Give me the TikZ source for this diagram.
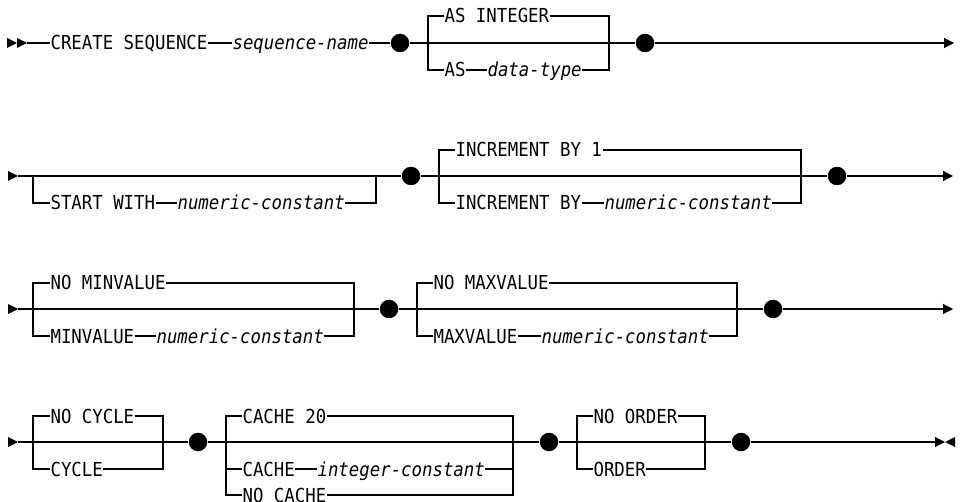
\documentclass[tikz,border=0pt]{standalone}
\usepackage{fontspec}
\setmonofont[FakeStretch=0.9]{DejaVu Sans Mono}
\usetikzlibrary{arrows.meta}

\tikzset{
    kw/.style={inner sep=0pt, anchor=west, text height=14pt, text depth=0pt,
        font=\ttfamily\fontsize{19.3}{21}\selectfont},
    var/.style={kw, font=\ttfamily\itshape\fontsize{19.3}{21}\selectfont},
    dot/.style={circle, fill, inner sep=0pt, minimum size=18.5pt},
    rail/.style={line width=1.1pt},
    railend/.style={-{Triangle[length=10pt, width=10pt]}},
    railmark/.pic={\fill (-10pt,-5pt) -- (0pt,0pt) -- (-10pt,5pt) -- cycle;}
}

\begin{document}
\begin{tikzpicture}[x=1pt, y=-1pt, rail]
    \useasboundingbox (0,0) rectangle (960,502);

    % 第一行
    \pic at (17,43) {railmark};
    \pic at (27,43) {railmark};
    \coordinate (s1) at (27,43);
    \node[kw] (create) at (50,43) {CREATE SEQUENCE};
    \node[var] (seqname) at (232,43) {sequence-name};
    \node[dot] (d1a) at (400,43) {};
    \coordinate (b1l) at (428,43);
    \coordinate (b1r) at (609,43);
    \node[kw] (asint) at (444,16) {AS INTEGER};
    \node[kw] (as) at (444,70) {AS};
    \node[var] (dtype) at (487,70) {data-type};
    \node[dot] (d1b) at (645,43) {};
    \coordinate (e1) at (954,43);
    \draw (s1) -- (create) (create) -- (seqname) (seqname) -- (d1a) -- (d1b);
    \draw (asint) -| (b1l) |- (as);
    \draw (asint) -| (b1r) |- (dtype);
    \draw (as) -- (dtype);
    \draw[railend] (d1b) -- (e1);

    % 第二行
    \pic at (18,176) {railmark};
    \coordinate (s2) at (18,176);
    \coordinate (b2l) at (33,176);
    \coordinate (b2r) at (376,176);
    \node[kw] (startw) at (50,203) {START WITH};
    \node[var] (nc1) at (177,203) {numeric-constant};
    \node[dot] (d2a) at (411,176) {};
    \coordinate (b3l) at (439,176);
    \coordinate (b3r) at (801,176);
    \node[kw] (incr1) at (455,150) {INCREMENT BY 1};
    \node[kw] (incrby) at (455,203) {INCREMENT BY};
    \node[var] (nc2) at (604,203) {numeric-constant};
    \node[dot] (d2b) at (837,176) {};
    \coordinate (e2) at (953,176);
    \draw (s2) -- (d2a) -- (d2b);
    \draw (b2l) |- (startw);
    \draw (nc1) -| (b2r);
    \draw (startw) -- (nc1);
    \draw (incr1) -| (b3l) |- (incrby);
    \draw (incr1) -| (b3r) |- (nc2);
    \draw (incrby) -- (nc2);
    \draw[railend] (d2b) -- (e2);

    % 第三行
    \pic at (18,309) {railmark};
    \coordinate (s3) at (18,309);
    \coordinate (b4l) at (33,309);
    \coordinate (b4r) at (354,309);
    \node[kw] (nomin) at (50,283) {NO MINVALUE};
    \node[kw] (minv) at (50,336) {MINVALUE};
    \node[var] (nc3) at (156,336) {numeric-constant};
    \node[dot] (d3a) at (389,309) {};
    \coordinate (b5l) at (417,309);
    \coordinate (b5r) at (737,309);
    \node[kw] (nomax) at (433,283) {NO MAXVALUE};
    \node[kw] (maxv) at (433,336) {MAXVALUE};
    \node[var] (nc4) at (541,336) {numeric-constant};
    \node[dot] (d3b) at (773,309) {};
    \coordinate (e3) at (953,309);
    \draw (s3) -- (d3a) -- (d3b);
    \draw (nomin) -| (b4l) |- (minv);
    \draw (nomin) -| (b4r) |- (nc3);
    \draw (minv) -- (nc3);
    \draw (nomax) -| (b5l) |- (maxv);
    \draw (nomax) -| (b5r) |- (nc4);
    \draw (maxv) -- (nc4);
    \draw[railend] (d3b) -- (e3);

    % 第四行
    \pic at (18,442) {railmark};
    \coordinate (s4) at (18,442);
    \coordinate (b6l) at (33,442);
    \coordinate (b6r) at (163,442);
    \node[kw] (nocycle) at (50,416) {NO CYCLE};
    \node[kw] (cycle) at (50,469) {CYCLE};
    \node[dot] (d4a) at (198,442) {};
    \coordinate (b7l) at (226,442);
    \coordinate (b7r) at (513,442);
    \node[kw] (cache20) at (242,416) {CACHE 20};
    \node[kw] (cache) at (242,469) {CACHE};
    \node[var] (intc) at (317,469) {integer-constant};
    \node[kw] (nocache) at (242,495) {NO CACHE};
    \node[dot] (d4b) at (549,442) {};
    \coordinate (b8l) at (577,442);
    \coordinate (b8r) at (705,442);
    \node[kw] (noorder) at (593,416) {NO ORDER};
    \node[kw] (order) at (593,469) {ORDER};
    \node[dot] (d4c) at (741,442) {};
    \coordinate (e4) at (945,442);
    \draw (s4) -- (d4a) -- (d4b) -- (d4c);
    \draw (nocycle) -| (b6l) |- (cycle);
    \draw (nocycle) -| (b6r) |- (cycle);
    \draw (cache20) -| (b7l) |- (nocache);
    \draw (cache20) -| (b7r) |- (nocache);
    \draw (b7l |- cache) -- (cache) (cache) -- (intc) (intc) -- (intc -| b7r);
    \draw (noorder) -| (b8l) |- (order);
    \draw (noorder) -| (b8r) |- (order);
    \draw[railend] (d4c) -- (e4);
    \pic[xscale=-1] at (e4) {railmark};
\end{tikzpicture}
\end{document}
